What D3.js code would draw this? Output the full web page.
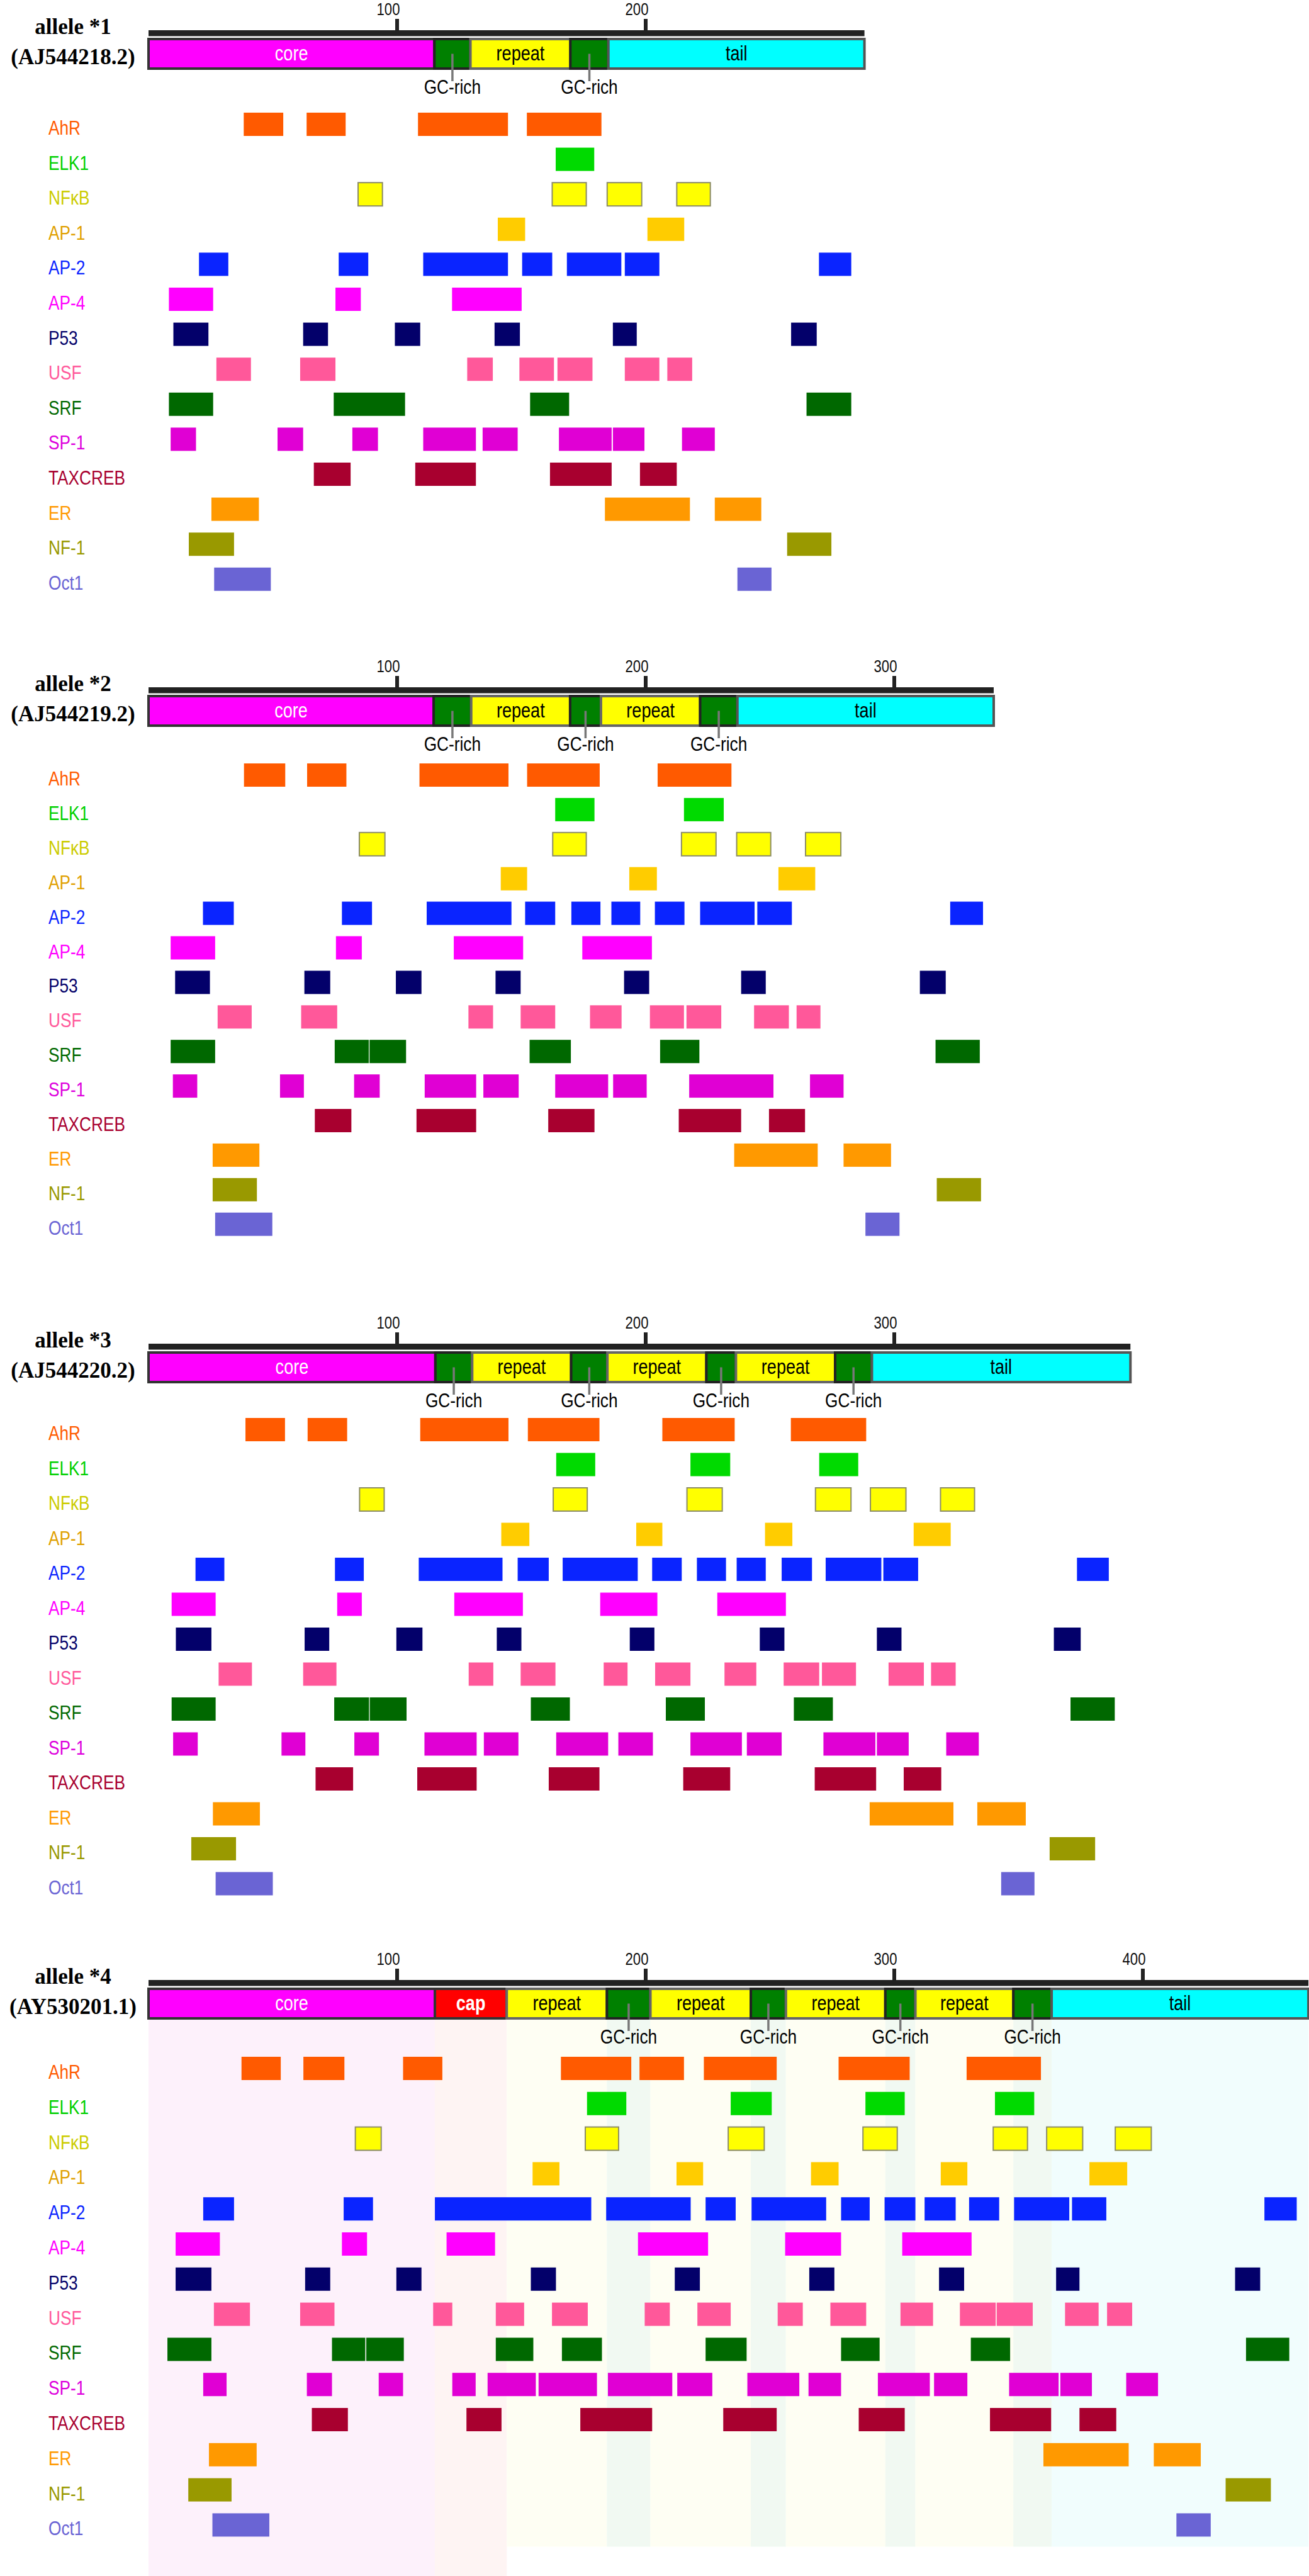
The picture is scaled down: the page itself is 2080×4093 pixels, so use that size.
<!DOCTYPE html>
<html>
<head>
<meta charset="utf-8">
<script src="https://cdn.jsdelivr.net/npm/d3@7"></script>
<style>
    body { margin: 0; background: #fff; }
    .sans { font-family: "Liberation Sans", Arial, sans-serif; }
    .serif { font-family: "Liberation Serif", "Times New Roman", serif; font-weight: bold; }
</style>
</head>
<body>
<div id="app"></div>
<script>
// transcription factors, top to bottom
const factors = ["AhR", "ELK1", "NFκB", "AP-1", "AP-2", "AP-4", "P53", "USF", "SRF", "SP-1", "TAXCREB", "ER", "NF-1", "Oct1"];
const boxColors = ["#ff5a00", "#00da00", "#ffff00", "#ffcc00", "#0a24ff", "#ff00ff", "#03006a", "#ff589a", "#006800", "#e000d4", "#a8002f", "#ff9900", "#999900", "#6a64d4"];
const labelColors = ["#ff5a00", "#00d000", "#cccc00", "#e0a000", "#0a24ff", "#ff00ff", "#03006a", "#ff589a", "#006800", "#dd00dd", "#a8002f", "#ff9900", "#999900", "#6a64d4"];

const alleleNames = ["allele *1", "allele *2", "allele *3", "allele *4"];
const accessions = ["(AJ544218.2)", "(AJ544219.2)", "(AJ544220.2)", "(AY530201.1)"];
const alleleLengths = [288, 340, 395, 466.6];
const tickValues = [100, 200, 300, 400];

// structural regions [type, start, end]
const regions1 = [["core", 0, 115], ["GC-rich", 115, 129.5], ["repeat", 129.5, 169.7], ["GC-rich", 169.7, 185], ["tail", 185, 288]];
const regions2 = [["core", 0, 114.7], ["GC-rich", 114.7, 129.8], ["repeat", 129.8, 169.6], ["GC-rich", 169.6, 182],
    ["repeat", 182, 221.9], ["GC-rich", 221.9, 236.9], ["tail", 236.9, 340]];
const regions3 = [["core", 0, 115.4], ["GC-rich", 115.4, 130.2], ["repeat", 130.2, 170], ["GC-rich", 170, 184.6],
    ["repeat", 184.6, 224.4], ["GC-rich", 224.4, 236.3], ["repeat", 236.3, 276.2], ["GC-rich", 276.2, 291], ["tail", 291, 395]];
const regions4 = [["core", 0, 115.2], ["cap", 115.2, 144.1], ["repeat", 144.1, 184.4], ["GC-rich", 184.4, 201.9],
    ["repeat", 201.9, 242.3], ["GC-rich", 242.3, 256.4], ["repeat", 256.4, 296.4], ["GC-rich", 296.4, 308.5],
    ["repeat", 308.5, 347.9], ["GC-rich", 347.9, 363.3], ["tail", 363.3, 466.6]];

// binding sites [factor, start, end]
const sites1 = [
    ["AhR", 38.3, 54.2], ["AhR", 63.6, 79.3], ["AhR", 108.4, 144.6], ["AhR", 152.2, 182.2],
    ["ELK1", 163.8, 179.3],
    ["NFκB", 84.3, 94.1], ["NFκB", 162.4, 176.1], ["NFκB", 184.5, 198.4], ["NFκB", 212.5, 226],
    ["AP-1", 140.5, 151.5], ["AP-1", 200.7, 215.5],
    ["AP-2", 20.3, 32.1], ["AP-2", 76.5, 88.4], ["AP-2", 110.5, 144.6], ["AP-2", 150.3, 162.4], ["AP-2", 168.3, 190.2], ["AP-2", 191.6, 205.5], ["AP-2", 269.7, 282.7],
    ["AP-4", 8.2, 26], ["AP-4", 75.2, 85.4], ["AP-4", 122.1, 150.1],
    ["P53", 10, 24.1], ["P53", 62.2, 72.2], ["P53", 99.1, 109.3], ["P53", 139.2, 149.4], ["P53", 186.8, 196.4], ["P53", 258.5, 268.8],
    ["USF", 27.3, 41.2], ["USF", 61, 75.2], ["USF", 128.2, 138.5], ["USF", 149.2, 163.1], ["USF", 164.5, 178.6], ["USF", 191.6, 205.5], ["USF", 208.7, 218.7],
    ["SRF", 8.2, 26], ["SRF", 74.5, 103.2], ["SRF", 153.5, 169.2], ["SRF", 264.7, 282.7],
    ["SP-1", 8.9, 19.1], ["SP-1", 51.9, 62.2], ["SP-1", 82, 92.3], ["SP-1", 110.5, 131.7], ["SP-1", 134.4, 148.5], ["SP-1", 165.1, 186.3], ["SP-1", 186.8, 199.5], ["SP-1", 214.6, 227.8],
    ["TAXCREB", 66.5, 81.3], ["TAXCREB", 107.3, 131.7], ["TAXCREB", 161.5, 186.3], ["TAXCREB", 197.7, 212.5],
    ["ER", 25.3, 44.4], ["ER", 183.6, 217.8], ["ER", 227.8, 246.5],
    ["NF-1", 16.2, 34.4], ["NF-1", 256.9, 274.7],
    ["Oct1", 26.4, 49.2], ["Oct1", 236.9, 250.6]
];
const sites2 = [
    ["AhR", 38.4, 55], ["AhR", 63.8, 79.6], ["AhR", 109, 144.8], ["AhR", 152.3, 181.5], ["AhR", 204.8, 234.5],
    ["ELK1", 163.6, 179.4], ["ELK1", 215.4, 231.4],
    ["NFκB", 84.8, 95.1], ["NFκB", 162.6, 176.1], ["NFκB", 214.4, 228.3], ["NFκB", 236.6, 250.3], ["NFκB", 264.3, 278.5],
    ["AP-1", 141.7, 152.3], ["AP-1", 193.4, 204.5], ["AP-1", 253.4, 268.2],
    ["AP-2", 21.9, 34.3], ["AP-2", 77.8, 89.9], ["AP-2", 111.9, 146], ["AP-2", 151.5, 163.6], ["AP-2", 170.1, 181.8], ["AP-2", 186.2, 197.8],
    ["AP-2", 203.7, 215.6], ["AP-2", 221.9, 243.8], ["AP-2", 244.9, 258.8], ["AP-2", 322.5, 335.7],
    ["AP-4", 8.9, 26.8], ["AP-4", 75.4, 85.8], ["AP-4", 122.8, 150.7], ["AP-4", 174.5, 202.5],
    ["P53", 10.7, 24.7], ["P53", 62.7, 73.1], ["P53", 99.5, 109.8], ["P53", 139.6, 149.7], ["P53", 191.3, 201.4], ["P53", 238.4, 248.3], ["P53", 310.3, 320.7],
    ["USF", 27.8, 41.5], ["USF", 61.4, 75.9], ["USF", 128.7, 138.6], ["USF", 149.7, 163.6], ["USF", 177.6, 190.3], ["USF", 201.7, 215.4],
    ["USF", 216.4, 230.4], ["USF", 243.6, 257.6], ["USF", 260.7, 270.3],
    ["SRF", 8.9, 26.8], ["SRF", 74.9, 88.6], ["SRF", 88.9, 103.6], ["SRF", 153.3, 169.9], ["SRF", 205.8, 221.6], ["SRF", 316.6, 334.4],
    ["SP-1", 9.8, 19.6], ["SP-1", 52.9, 62.5], ["SP-1", 82.7, 93], ["SP-1", 111.1, 131.8], ["SP-1", 134.7, 148.9], ["SP-1", 163.6, 184.9],
    ["SP-1", 186.9, 200.4], ["SP-1", 217.5, 251.4], ["SP-1", 266.1, 279.6],
    ["TAXCREB", 66.9, 81.6], ["TAXCREB", 107.8, 131.8], ["TAXCREB", 160.8, 179.4], ["TAXCREB", 213.3, 238.4], ["TAXCREB", 249.6, 264.1],
    ["ER", 25.8, 44.6], ["ER", 235.6, 269.2], ["ER", 279.6, 298.7],
    ["NF-1", 25.8, 43.6], ["NF-1", 317.1, 334.9],
    ["Oct1", 26.8, 49.8], ["Oct1", 288.4, 302.1]
];
const sites3 = [
    ["AhR", 39, 54.9], ["AhR", 64, 79.9], ["AhR", 109.3, 144.8], ["AhR", 152.6, 181.4], ["AhR", 206.7, 235.8], ["AhR", 258.4, 288.7],
    ["ELK1", 164, 179.7], ["ELK1", 218, 234], ["ELK1", 269.8, 285.5],
    ["NFκB", 84.9, 94.8], ["NFκB", 162.8, 176.5], ["NFκB", 216.6, 230.8], ["NFκB", 268.3, 282.6], ["NFκB", 290.4, 304.7], ["NFκB", 318.6, 332.3],
    ["AP-1", 141.9, 153.2], ["AP-1", 196.2, 206.7], ["AP-1", 248, 259], ["AP-1", 307.8, 322.7],
    ["AP-2", 18.9, 30.5], ["AP-2", 75, 86.6], ["AP-2", 108.7, 142.4], ["AP-2", 148.5, 161], ["AP-2", 166.6, 196.8], ["AP-2", 202.6, 214.5],
    ["AP-2", 220.6, 232.3], ["AP-2", 236.6, 248.3], ["AP-2", 254.7, 266.9], ["AP-2", 272.4, 294.8], ["AP-2", 295.6, 309.6], ["AP-2", 373.5, 386.3],
    ["AP-4", 9.3, 27], ["AP-4", 75.9, 85.8], ["AP-4", 123, 150.6], ["AP-4", 181.7, 204.7], ["AP-4", 228.8, 256.4],
    ["P53", 11, 25.3], ["P53", 62.8, 72.7], ["P53", 99.7, 110.2], ["P53", 140.1, 150], ["P53", 193.6, 203.5], ["P53", 245.9, 255.8], ["P53", 293, 302.9], ["P53", 364.2, 375],
    ["USF", 28.2, 41.6], ["USF", 62.2, 75.6], ["USF", 128.8, 138.7], ["USF", 149.7, 163.7], ["USF", 183.1, 192.7], ["USF", 203.8, 218],
    ["USF", 231.7, 244.5], ["USF", 255.5, 269.8], ["USF", 270.9, 284.6], ["USF", 297.7, 311.9], ["USF", 314.8, 324.7],
    ["SRF", 9.3, 27], ["SRF", 74.7, 88.7], ["SRF", 89, 103.8], ["SRF", 153.8, 169.5], ["SRF", 208.1, 223.8], ["SRF", 259.6, 275.3], ["SRF", 370.9, 388.7],
    ["SP-1", 9.9, 19.8], ["SP-1", 53.5, 63.1], ["SP-1", 82.8, 92.7], ["SP-1", 111, 132], ["SP-1", 134.9, 148.8], ["SP-1", 164, 184.9], ["SP-1", 189, 202.9],
    ["SP-1", 218, 238.7], ["SP-1", 240.7, 254.7], ["SP-1", 271.5, 292.4], ["SP-1", 293, 305.8], ["SP-1", 320.9, 334],
    ["TAXCREB", 67.2, 82.3], ["TAXCREB", 108.1, 132], ["TAXCREB", 161, 181.4], ["TAXCREB", 215.1, 234], ["TAXCREB", 268, 292.7], ["TAXCREB", 303.8, 318.9],
    ["ER", 25.9, 44.8], ["ER", 290.1, 323.8], ["ER", 333.4, 352.9],
    ["NF-1", 17.2, 35.2], ["NF-1", 362.5, 380.8],
    ["Oct1", 27, 50], ["Oct1", 343, 356.4]
];
const sites4 = [
    ["AhR", 37.4, 53.2], ["AhR", 62.3, 78.8], ["AhR", 102.4, 118.2], ["AhR", 165.9, 194.2], ["AhR", 197.5, 215.4], ["AhR", 223.4, 252.7], ["AhR", 277.6, 306.2], ["AhR", 329.1, 359],
    ["ELK1", 176.4, 192.2], ["ELK1", 234.2, 250.7], ["ELK1", 288.4, 304.2], ["ELK1", 340.5, 356.3],
    ["NFκB", 83.2, 93.6], ["NFκB", 175.7, 189.1], ["NFκB", 233.2, 247.7], ["NFκB", 287.4, 301.2], ["NFκB", 339.8, 353.6], ["NFκB", 361.3, 375.8], ["NFκB", 388.9, 403.4],
    ["AP-1", 154.5, 165.3], ["AP-1", 212.4, 223.1], ["AP-1", 266.5, 277.6], ["AP-1", 318.7, 329.4], ["AP-1", 378.5, 393.7],
    ["AP-2", 22, 34.4], ["AP-2", 78.5, 90.3], ["AP-2", 115.2, 178.1], ["AP-2", 184.1, 218.1], ["AP-2", 224.1, 236.2], ["AP-2", 242.6, 272.6], ["AP-2", 278.6, 290.1],
    ["AP-2", 296.1, 308.5], ["AP-2", 312.2, 324.7], ["AP-2", 330.1, 342.2], ["AP-2", 348.2, 370.4], ["AP-2", 371.5, 385.3], ["AP-2", 448.9, 461.9],
    ["AP-4", 10.9, 28.7], ["AP-4", 77.8, 87.9], ["AP-4", 119.9, 139.4], ["AP-4", 196.9, 225.1], ["AP-4", 256.1, 278.6], ["AP-4", 303.2, 331.1],
    ["P53", 10.9, 25.3], ["P53", 63, 73.1], ["P53", 99.7, 109.8], ["P53", 153.8, 163.9], ["P53", 211.7, 221.8], ["P53", 265.8, 275.9], ["P53", 318, 328.1], ["P53", 365.1, 374.5], ["P53", 437.1, 447.2],
    ["USF", 26.3, 40.8], ["USF", 61, 74.8], ["USF", 114.5, 122.2], ["USF", 139.7, 151.1], ["USF", 162.3, 176.7], ["USF", 199.6, 209.7], ["USF", 220.8, 234.2],
    ["USF", 253.1, 263.2], ["USF", 274.3, 288.7], ["USF", 302.5, 315.6], ["USF", 326.4, 340.8], ["USF", 341.2, 355.7], ["USF", 368.7, 382.2], ["USF", 385.6, 395.7],
    ["SRF", 7.6, 25.3], ["SRF", 73.8, 87.2], ["SRF", 87.6, 102.7], ["SRF", 139.7, 154.8], ["SRF", 166.3, 182.4], ["SRF", 224.1, 240.6], ["SRF", 278.6, 294.1], ["SRF", 330.8, 346.6], ["SRF", 441.5, 458.9],
    ["SP-1", 22, 31.4], ["SP-1", 63.7, 73.8], ["SP-1", 92.6, 102.4], ["SP-1", 122.2, 131.6], ["SP-1", 136.4, 155.8], ["SP-1", 156.9, 180.4], ["SP-1", 184.8, 210.7],
    ["SP-1", 212.7, 226.8], ["SP-1", 240.9, 261.8], ["SP-1", 265.5, 278.6], ["SP-1", 293.4, 314.3], ["SP-1", 316, 329.4], ["SP-1", 346.2, 366.1], ["SP-1", 366.8, 379.5], ["SP-1", 393.3, 406.1],
    ["TAXCREB", 65.7, 80.2], ["TAXCREB", 127.9, 142], ["TAXCREB", 173.7, 202.6], ["TAXCREB", 231.2, 252.7], ["TAXCREB", 285.7, 304.2], ["TAXCREB", 338.5, 363.1], ["TAXCREB", 374.5, 389.3],
    ["ER", 24.3, 43.5], ["ER", 360, 394.3], ["ER", 404.4, 423.3],
    ["NF-1", 16, 33.4], ["NF-1", 433.3, 451.5],
    ["Oct1", 25.7, 48.6], ["Oct1", 413.5, 427.3]
];

const allRegions = [regions1, regions2, regions3, regions4];
const allSites = [sites1, sites2, sites3, sites4];

// layout (pixels)
const W = 2080, H = 4093;
const axisY = [48, 1092, 2135, 3146];
const rowTop = [179, 1213, 2253, 3268];
const rowStep = [55.6, 54.9, 55.5, 55.8];
const x0 = 236, pxPerUnit = 3.95, boxH = 37;
const narrow = 0.82;   // the original uses a condensed sans face

const regionStyle = {
    "core":    { fill: "#ff00ff", stroke: "#333", text: "#fff", band: "#fdf1fb" },
    "cap":     { fill: "#ff0000", stroke: "#333", text: "#fff", band: "#fef4f3" },
    "repeat":  { fill: "#ffff00", stroke: "#666", text: "#000", band: "#fefef3" },
    "GC-rich": { fill: "#008000", stroke: "#222", text: null,   band: "#f1f9f2" },
    "tail":    { fill: "#00ffff", stroke: "#555", text: "#000", band: "#f1fdfd" }
};

const svg = d3.select("#app")
    .append("svg")
    .attr("width", W)
    .attr("height", H);

// condensed text placed at (x, y)
function place(fx, fy) {
    return (d, k) => `translate(${fx(d, k)},${fy(d, k)}) scale(${narrow},1)`;
}

function drawAllele(i) {
    const L = alleleLengths[i];
    const x = d3.scaleLinear().domain([0, L]).range([x0, x0 + pxPerUnit * L]);
    const y = d3.scaleBand().domain(factors)
        .range([rowTop[i], rowTop[i] + rowStep[i] * factors.length]).paddingInner(0);
    const A = axisY[i];
    const barTop = A + 14, barH = 47;
    const g = svg.append("g");

    // shaded bands below the structure (only the last allele has them)
    if (i === 3) {
        const lastRow = rowTop[i] + rowStep[i] * (factors.length - 1) + boxH + 16;
        g.selectAll("rect.band")
            .data(allRegions[i])
            .join("rect")
            .attr("class", "band")
            .attr("x", d => x(d[1]))
            .attr("y", barTop + barH)
            .attr("width", d => x(d[2]) - x(d[1]))
            .attr("height", d => (d[0] === "core" || d[0] === "cap" ? H : lastRow) - (barTop + barH))
            .style("fill", d => regionStyle[d[0]].band);
    }

    // allele name
    g.append("text").attr("class", "serif")
        .attr("x", 116).attr("y", A + 6)
        .attr("text-anchor", "middle").attr("font-size", 35)
        .text(alleleNames[i]);
    g.append("text").attr("class", "serif")
        .attr("x", 116).attr("y", A + 54)
        .attr("text-anchor", "middle").attr("font-size", 35)
        .text(accessions[i]);

    // ruler
    g.append("rect")
        .attr("x", x(0)).attr("y", A)
        .attr("width", x(L) - x(0)).attr("height", 9.5)
        .style("fill", "#222");
    const ticks = tickValues.filter(t => t < L);
    g.selectAll("line.tick")
        .data(ticks)
        .join("line")
        .attr("x1", d => x(d)).attr("x2", d => x(d))
        .attr("y1", A - 18).attr("y2", A)
        .style("stroke", "#222").style("stroke-width", 6);
    g.selectAll("text.tick")
        .data(ticks)
        .join("text")
        .attr("class", "sans")
        .attr("transform", place(d => x(d) - 14, () => A - 24))
        .attr("text-anchor", "middle").attr("font-size", 27)
        .style("fill", "#111")
        .text(d => d);

    // structure bar
    g.selectAll("rect.region")
        .data(allRegions[i])
        .join("rect")
        .attr("class", "region")
        .attr("x", d => x(d[1])).attr("y", barTop)
        .attr("width", d => x(d[2]) - x(d[1])).attr("height", barH)
        .style("fill", d => regionStyle[d[0]].fill)
        .style("stroke", d => regionStyle[d[0]].stroke)
        .style("stroke-width", 4);

    const named = allRegions[i].filter(d => regionStyle[d[0]].text);
    g.selectAll("text.region")
        .data(named)
        .join("text")
        .attr("class", "sans")
        .attr("transform", place(d => x((d[1] + d[2]) / 2), () => barTop + barH / 2 + 10))
        .attr("text-anchor", "middle").attr("font-size", 33)
        .attr("font-weight", d => d[0] === "cap" ? "bold" : "normal")
        .style("fill", d => regionStyle[d[0]].text)
        .text(d => d[0]);

    // GC-rich callouts
    const gc = allRegions[i].filter(d => d[0] === "GC-rich");
    g.selectAll("line.gc")
        .data(gc)
        .join("line")
        .attr("x1", d => x((d[1] + d[2]) / 2)).attr("x2", d => x((d[1] + d[2]) / 2))
        .attr("y1", barTop + barH / 2).attr("y2", A + 81)
        .style("stroke", "#777").style("stroke-width", 3.5);
    g.selectAll("text.gc")
        .data(gc)
        .join("text")
        .attr("class", "sans")
        .attr("transform", place(d => x((d[1] + d[2]) / 2), () => A + 101))
        .attr("text-anchor", "middle").attr("font-size", 32)
        .style("fill", "#000")
        .text("GC-rich");

    // factor labels
    g.selectAll("text.factor")
        .data(factors)
        .join("text")
        .attr("class", "sans")
        .attr("transform", place(() => 77, d => y(d) + 35))
        .attr("font-size", 32)
        .style("fill", (d, k) => labelColors[k])
        .text(d => d);

    // binding sites
    g.selectAll("rect.site")
        .data(allSites[i])
        .join("rect")
        .attr("class", "site")
        .attr("x", d => x(d[1])).attr("y", d => y(d[0]))
        .attr("width", d => x(d[2]) - x(d[1])).attr("height", boxH)
        .style("fill", d => boxColors[factors.indexOf(d[0])])
        .style("stroke", d => d[0] === "NFκB" ? "#8c8c66" : "none")
        .style("stroke-width", 2);
}

for (let i = 0; i < 4; i++) {
    drawAllele(i);
}
</script>
</body>
</html>
